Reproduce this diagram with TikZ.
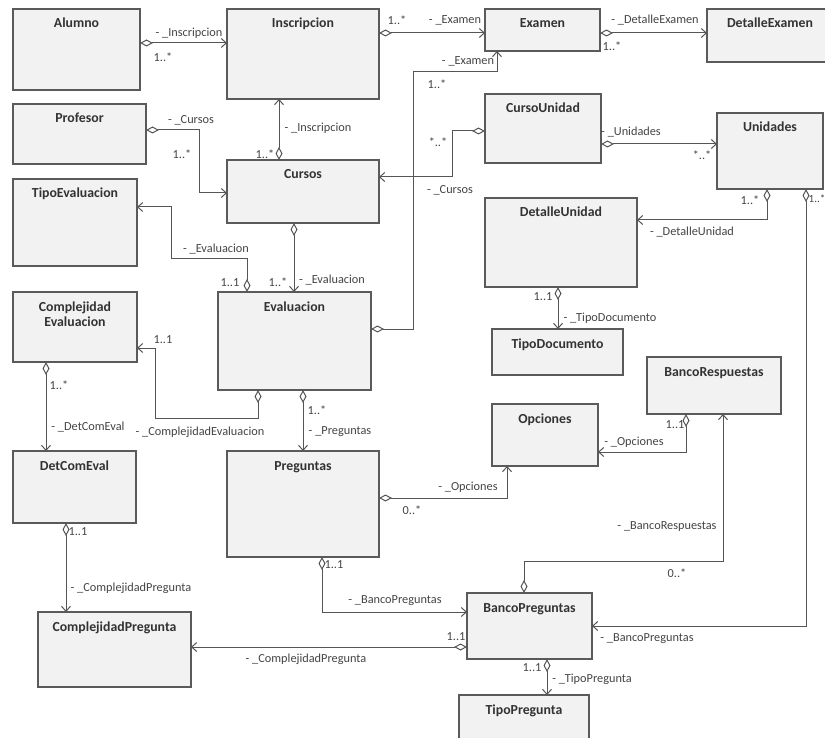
\documentclass[tikz,border=0pt]{standalone}
\usepackage{fontspec}
\setmainfont{Carlito}
\usetikzlibrary{arrows.meta,calc}
\definecolor{boxline}{HTML}{5A5A5A}
\definecolor{boxfill}{HTML}{F2F2F2}
\definecolor{titlec}{HTML}{333333}
\definecolor{labc}{HTML}{444444}
\definecolor{linec}{HTML}{555555}
\tikzset{
  umlbox/.style={draw=boxline, fill=boxfill, line width=1.1pt, anchor=north west, inner sep=0pt, outer sep=0pt},
  boxtitle/.style={anchor=base, font=\fontsize{13.8}{15}\selectfont\bfseries, text=titlec, inner sep=0pt},
  assoc/.style={draw=linec, line width=1pt, {Diamond[open,length=13pt,width=7pt,line width=1pt]}-{Straight Barb[length=5pt,width=9pt,line width=1pt]}},
  lab/.style={font=\fontsize{12.3}{14}\selectfont, text=labc, inner sep=0pt}
}
\newcommand\umlbox[6]{%
  \node[umlbox, minimum width=#4pt, minimum height=#5pt] (#1) at (#2,#3) {};
  \node[boxtitle] (#1-t) at ($(#1.north)+(0,19)$) {#6};}
\begin{document}
\begin{tikzpicture}[x=1pt,y=-1pt]
\useasboundingbox (0,0) rectangle (825,738);
\umlbox{Alumno}{13}{9}{127}{81}{Alumno}
\umlbox{Inscripcion}{227}{9}{152}{90}{Inscripcion}
\umlbox{Examen}{485}{9}{115}{42}{Examen}
\umlbox{DetalleExamen}{707}{9}{126}{53}{DetalleExamen}
\umlbox{Profesor}{13}{104}{133}{60}{Profesor}
\umlbox{Cursos}{227}{160}{152}{63}{Cursos}
\umlbox{TipoEvaluacion}{13}{179}{124}{87}{TipoEvaluacion}
\umlbox{CursoUnidad}{485}{94}{116}{69}{CursoUnidad}
\umlbox{Unidades}{717}{113}{106}{76}{Unidades}
\umlbox{DetalleUnidad}{485}{198}{152}{89}{DetalleUnidad}
\umlbox{TipoDocumento}{492}{329}{131}{46}{TipoDocumento}
\umlbox{BancoRespuestas}{647}{357}{134}{57}{BancoRespuestas}
\umlbox{ComplejidadEvaluacion}{13}{292}{124}{70}{Complejidad}
\node[boxtitle] (ComplejidadEvaluacion-t2) at ($(ComplejidadEvaluacion.north)+(0,34)$) {Evaluacion};
\umlbox{Evaluacion}{218}{292}{153}{98}{Evaluacion}
\umlbox{DetComEval}{13}{451}{123}{72}{DetComEval}
\umlbox{Preguntas}{227}{451}{152}{106}{Preguntas}
\umlbox{Opciones}{492}{404}{106}{62}{Opciones}
\umlbox{ComplejidadPregunta}{38}{612}{153}{75}{ComplejidadPregunta}
\umlbox{BancoPreguntas}{467}{593}{125}{66}{BancoPreguntas}
\umlbox{TipoPregunta}{459}{695}{130}{60}{TipoPregunta}

% connectors
\draw[assoc] (Alumno.east|-0,43) -- (Inscripcion.west|-0,43);
\draw[assoc] (Inscripcion.east|-0,33) -- (Examen.west|-0,33);
\draw[assoc] (Examen.east|-0,33) -- (DetalleExamen.west|-0,33);
\draw[assoc] (Evaluacion.east|-0,329) -- (413,329) -- (413,72) -- (497,72) -- (Examen.south-|497,0);
\draw[assoc] (CursoUnidad.west|-0,131) -- (452,131) -- (452,177) -- (Cursos.east|-0,177);
\draw[assoc] (CursoUnidad.east|-0,144) -- (Unidades.west|-0,144);
\draw[assoc] (Profesor.east|-0,130) -- (199,130) -- (199,193) -- (Cursos.west|-0,193);
\draw[assoc] (Cursos.north-|279,0) -- (Inscripcion.south-|279,0);
\draw[assoc] (Evaluacion.north-|247,0) -- (247,259) -- (171,259) -- (171,207) -- (TipoEvaluacion.east|-0,207);
\draw[assoc] (Cursos.south-|294,0) -- (Evaluacion.north-|294,0);
\draw[assoc] (Evaluacion.south-|258,0) -- (258,418) -- (155,418) -- (155,348) -- (ComplejidadEvaluacion.east|-0,348);
\draw[assoc] (ComplejidadEvaluacion.south-|46,0) -- (DetComEval.north-|46,0);
\draw[assoc] (Evaluacion.south-|303,0) -- (Preguntas.north-|303,0);
\draw[assoc] (DetComEval.south-|66,0) -- (ComplejidadPregunta.north-|66,0);
\draw[assoc] (Preguntas.east|-0,498) -- (507,498) -- (Opciones.south-|507,0);
\draw[assoc] (BancoRespuestas.south-|686,0) -- (686,452) -- (Opciones.east|-0,452);
\draw[assoc] (BancoPreguntas.north-|524,0) -- (524,561) -- (723,561) -- (BancoRespuestas.south-|723,0);
\draw[assoc] (Preguntas.south-|322,0) -- (322,612) -- (BancoPreguntas.west|-0,612);
\draw[assoc] (BancoPreguntas.west|-0,647) -- (ComplejidadPregunta.east|-0,647);
\draw[assoc] (Unidades.south-|806,0) -- (806,626) -- (BancoPreguntas.east|-0,626);
\draw[assoc] (Unidades.south-|767,0) -- (767,220) -- (DetalleUnidad.east|-0,220);
\draw[assoc] (BancoPreguntas.south-|547,0) -- (TipoPregunta.north-|547,0);
\draw[assoc] (DetalleUnidad.south-|558,0) -- (TipoDocumento.north-|558,0);

% labels
\node[lab] (l1a) at (189,33) {- \_Inscripcion};
\node[lab] (l1b) at (163,57) {1..*};
\node[lab] (l2a) at (397,20) {1..*};
\node[lab] (l2b) at (455,20) {- \_Examen};
\node[lab] (l3a) at (655,20) {- \_DetalleExamen};
\node[lab] (l3b) at (612,46) {1..*};
\node[lab] (l4a) at (468,61) {- \_Examen};
\node[lab] (l4b) at (437,84) {1..*};
\node[lab] (l5a) at (438,142) {*..*};
\node[lab] (l5b) at (450,190) {- \_Cursos};
\node[lab] (l6a) at (631,132) {- \_Unidades};
\node[lab] (l6b) at (702,155) {*..*};
\node[lab] (l7a) at (191,120) {- \_Cursos};
\node[lab] (l7b) at (182,154) {1..*};
\node[lab] (l8a) at (318,128) {- \_Inscripcion};
\node[lab] (l8b) at (265,154) {1..*};
\node[lab] (l9a) at (216,249) {- \_Evaluacion};
\node[lab] (l9b) at (230,283) {1..1};
\node[lab] (l10a) at (278,282) {1..*};
\node[lab] (l10b) at (332,280) {- \_Evaluacion};
\node[lab] (l11a) at (163,340) {1..1};
\node[lab] (l11b) at (200,432) {- \_ComplejidadEvaluacion};
\node[lab] (l12a) at (59,385) {1..*};
\node[lab] (l12b) at (88,427) {- \_DetComEval};
\node[lab] (l13a) at (317,410) {1..*};
\node[lab] (l13b) at (340,432) {- \_Preguntas};
\node[lab] (l14a) at (78,532) {1..1};
\node[lab] (l14b) at (131,588) {- \_ComplejidadPregunta};
\node[lab] (l15a) at (468,487) {- \_Opciones};
\node[lab] (l15b) at (412,510) {0..*};
\node[lab] (l16a) at (675,425) {1..1};
\node[lab] (l16b) at (634,442) {- \_Opciones};
\node[lab] (l17a) at (667,527) {- \_BancoRespuestas};
\node[lab] (l17b) at (677,573) {0..*};
\node[lab] (l18a) at (334,565) {1..1};
\node[lab] (l18b) at (395,601) {- \_BancoPreguntas};
\node[lab] (l19a) at (456,637) {1..1};
\node[lab] (l19b) at (306,659) {- \_ComplejidadPregunta};
\node[lab] (l20a) at (647,639) {- \_BancoPreguntas};
\node[lab, anchor=west, font=\fontsize{11}{12}\selectfont] (l20b) at (808.5,199) {1..*};
\node[lab] (l21a) at (750,200) {1..*};
\node[lab] (l21b) at (692,232) {- \_DetalleUnidad};
\node[lab] (l22a) at (532,668) {1..1};
\node[lab] (l22b) at (592,679) {- \_TipoPregunta};
\node[lab] (l23a) at (543,297) {1..1};
\node[lab] (l23b) at (610,318) {- \_TipoDocumento};
\end{tikzpicture}
\end{document}
